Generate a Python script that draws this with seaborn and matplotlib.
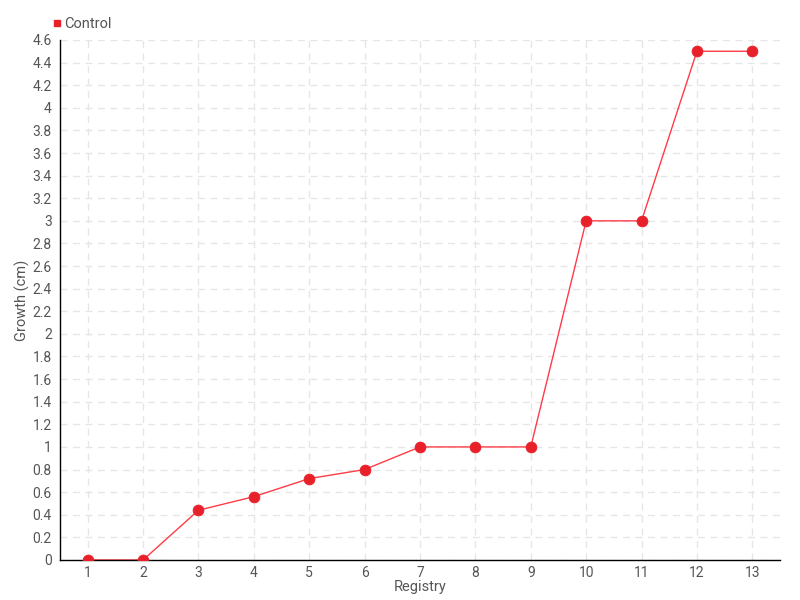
import numpy as np
import pandas as pd
import matplotlib
matplotlib.use("Agg")
import matplotlib.pyplot as plt
import seaborn as sns
from matplotlib.lines import Line2D

# chart data
registry = ["1", "2", "3", "4", "5", "6", "7", "8", "9", "10", "11", "12", "13"]
growth = [0, 0, 0.44, 0.56, 0.72, 0.8, 1, 1, 1, 3, 3, 4.5, 4.5]
y_ticks = [round(0.2 * i, 1) for i in range(24)]

df = pd.DataFrame({"Registry": registry, "Growth": growth})

sns.set_style("white")
plt.rcParams["font.family"] = ["Roboto", "DejaVu Sans"]

fig = plt.figure(figsize=(8, 6), dpi=100)
ax = fig.add_axes([0.075, 0.0667, 0.9, 0.8667])

red = "#e8202a"
pos = np.arange(len(registry))
sns.lineplot(x=pos, y=df["Growth"], ax=ax, color="#ff3b47", lw=1, zorder=2)
sns.scatterplot(x=pos, y=df["Growth"], ax=ax, color=red, s=60, edgecolor=red, zorder=3)

ax.set_xlim(-0.5, len(registry) - 0.5)
ax.set_ylim(0, 4.6)
ax.set_xticks(pos)
ax.set_xticklabels(registry)
ax.set_yticks(y_ticks)
ax.set_yticklabels([f"{v:g}" for v in y_ticks])
ax.tick_params(axis="both", colors="#555555", labelsize=10, length=4, width=1, direction="out", pad=2)
ax.tick_params(axis="x", pad=0)
ax.tick_params(axis="both", color="black")

ax.grid(True, color="#e6e6e6", linestyle=(0, (5, 4)), linewidth=1)
for s in ["top", "right"]:
    ax.spines[s].set_visible(False)
for s in ["left", "bottom"]:
    ax.spines[s].set_color("black")
    ax.spines[s].set_linewidth(1)

ax.set_xlabel("Registry", color="#555555", fontsize=10.5, labelpad=0)
ax.set_ylabel("Growth (cm)", color="#555555", fontsize=10.5)
ax.yaxis.set_label_coords(-0.041, 0.5)

handle = Line2D([], [], marker="s", color=red, linestyle="none", markersize=5)
ax.legend([handle], ["Control"], loc="lower left", bbox_to_anchor=(-0.025, 1.0),
          frameon=False, handletextpad=0.1, fontsize=10.5, labelcolor="#555555",
          borderaxespad=0.2, handlelength=0.8)

fig.savefig("out.png", dpi=100)
